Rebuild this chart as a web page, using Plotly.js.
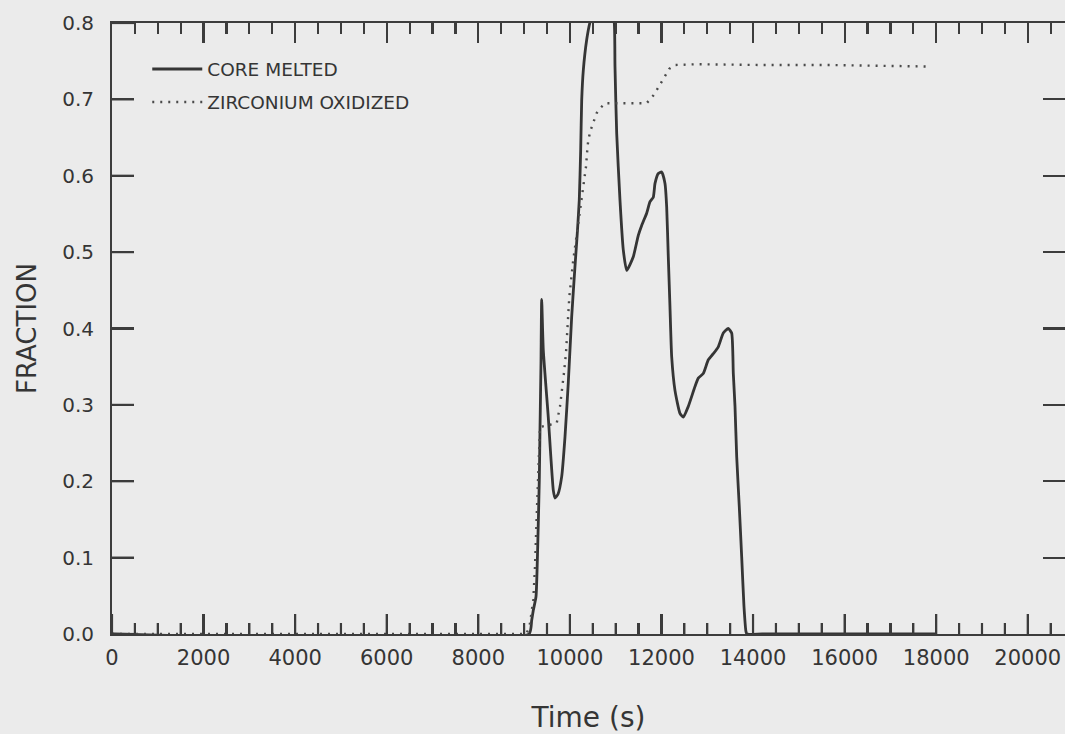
<!DOCTYPE html>
<html>
<head>
<meta charset="utf-8">
<script src="https://cdn.plot.ly/plotly-3.0.1.min.js"></script>
<style>
  html, body { margin: 0; padding: 0; background: #ebebeb; }
  #chart { width: 1065px; height: 734px; }
</style>
</head>
<body>
<div id="chart"></div>
<script>
// Fraction of the core melted over time (s)
const coreTime = [0, 9107, 9166, 9201, 9260, 9297, 9332, 9347, 9369, 9384,
  9419, 9528, 9638, 9675, 9740, 9821, 9893, 9965, 10039, 10111, 10162, 10205,
  10236, 10258, 10293, 10367, 10439, 10600, 10850, 10970, 10985, 11022, 11094,
  11166, 11241, 11385, 11494, 11568, 11677, 11750, 11822, 11859, 11931, 12005,
  12077, 12114, 12149, 12186, 12223, 12295, 12404, 12477, 12586, 12732, 12804,
  12913, 13023, 13132, 13241, 13350, 13459, 13533, 13569, 13606, 13643, 13700,
  13752, 13802, 13846, 13868, 14200, 18000];
const coreMelted = [0, 0, 0.018, 0.031, 0.049, 0.114, 0.202, 0.267, 0.355, 0.438,
  0.372, 0.284, 0.188, 0.178, 0.183, 0.206, 0.258, 0.329, 0.415, 0.481, 0.525, 0.568,
  0.634, 0.699, 0.738, 0.778, 0.801, 0.83, 0.84, 0.800, 0.743, 0.656, 0.568,
  0.503, 0.476, 0.494, 0.522, 0.535, 0.551, 0.566, 0.572, 0.590, 0.603, 0.605,
  0.590, 0.559, 0.494, 0.428, 0.363, 0.319, 0.289, 0.284, 0.298, 0.324, 0.335,
  0.341, 0.359, 0.367, 0.376, 0.394, 0.400, 0.394, 0.341, 0.298, 0.232, 0.166,
  0.101, 0.036, 0.003, 0, 0, 0];

// Fraction of the zirconium oxidized over time (s)
const zrTime = [0, 9041, 9085, 9129, 9201, 9238, 9275, 9310, 9347, 9565, 9712,
  9784, 9821, 9871, 9915, 9943, 9987, 10068, 10155, 10242, 10308, 10352, 10380,
  10402, 10455, 10511, 10585, 10657, 10767, 11677, 11822, 11895, 12005, 12077,
  12171, 12295, 12769, 14217, 15680, 17864];
const zrOxidized = [0, 0, 0.005, 0.014, 0.045, 0.088, 0.154, 0.219, 0.271, 0.274, 0.276,
  0.298, 0.315, 0.342, 0.368, 0.398, 0.441, 0.487, 0.526, 0.562, 0.588, 0.612, 0.634,
  0.647, 0.660, 0.669, 0.682, 0.688, 0.695, 0.695, 0.705, 0.712, 0.723, 0.732,
  0.740, 0.745, 0.746, 0.745, 0.745, 0.743];

const seriesNames = ['CORE MELTED', 'ZIRCONIUM OXIDIZED'];
const xLabel = 'Time (s)';
const yLabel = 'FRACTION';

// tick positions along the frame
const yTickVals = [0, 0.1, 0.2, 0.3, 0.4, 0.5, 0.6, 0.7, 0.8];
const xMajorTicks = [0, 2000, 4000, 6000, 8000, 10000, 12000, 14000, 16000, 18000, 20000];
const xMinorStep = 500;

const ink = '#353535';
const axisInk = '#3c3c3c';
const paper = '#ebebeb';
const font = 'DejaVu Sans, sans-serif';

const xRange = [0, 20813];
const yRange = [0, 0.8];

const traces = [
  {
    x: coreTime, y: coreMelted, name: seriesNames[0],
    type: 'scatter', mode: 'lines', legendgroup: 'a',
    line: { color: ink, width: 2.8, shape: 'spline', smoothing: 0.5 }
  },
  {
    x: zrTime, y: zrOxidized, name: seriesNames[1],
    type: 'scatter', mode: 'lines', legendgroup: 'b',
    line: { color: '#4a4a4a', width: 2.4, dash: '2px,6px' }
  }
];

// inward tick marks along the left and bottom edges of the frame
const tickShapes = [];
yTickVals.forEach(v => tickShapes.push({
  type: 'line', layer: 'above',
  xref: 'paper', xsizemode: 'pixel', xanchor: 0, x0: 0, x1: 22,
  yref: 'y', y0: v, y1: v,
  line: { color: axisInk, width: 2.2 }
}));
for (let t = 0; t <= xRange[1]; t += xMinorStep) {
  const major = xMajorTicks.includes(t);
  tickShapes.push({
    type: 'line', layer: 'above',
    xref: 'x', x0: t, x1: t,
    yref: 'paper', ysizemode: 'pixel', yanchor: 0, y0: 0, y1: major ? 20 : 11,
    line: { color: axisInk, width: 2.2 }
  });
}

const layout = {
  width: 1065, height: 734,
  margin: { l: 112, r: 0, t: 23, b: 100 },
  paper_bgcolor: paper, plot_bgcolor: paper,
  font: { family: font, color: ink },
  showlegend: true,
  legend: {
    x: 0.037, y: 0.955, xanchor: 'left', yanchor: 'top',
    bgcolor: 'rgba(0,0,0,0)', borderwidth: 0,
    font: { family: font, size: 18.5, color: ink },
    itemwidth: 50, traceorder: 'grouped', tracegroupgap: 6
  },
  xaxis: {
    range: xRange, tickmode: 'array', tickvals: xMajorTicks, tickformat: 'd',
    ticks: 'inside', ticklen: 20, tickwidth: 2.2, tickcolor: axisInk,
    minor: { dtick: xMinorStep, ticks: 'inside', ticklen: 11, tickwidth: 2.2, tickcolor: axisInk },
    showline: true, linecolor: axisInk, linewidth: 2, mirror: 'allticks',
    showgrid: false, zeroline: false,
    tickfont: { family: font, size: 21, color: ink },
    ticklabelstandoff: 4,
    automargin: false,
    title: { text: xLabel, font: { family: font, size: 28, color: ink }, standoff: 38 }
  },
  yaxis: {
    range: yRange, tickmode: 'array', tickvals: yTickVals, tickformat: '.1f',
    ticks: 'inside', ticklen: 22, tickwidth: 2.2, tickcolor: axisInk,
    showline: true, linecolor: axisInk, linewidth: 2, mirror: 'ticks',
    showgrid: false, zeroline: false,
    tickfont: { family: font, size: 20, color: ink },
    ticklabelstandoff: 12,
    automargin: false,
    title: { text: yLabel, font: { family: font, size: 26, color: ink }, standoff: 18 }
  },
  shapes: tickShapes
};

Plotly.newPlot('chart', traces, layout, { displayModeBar: false, staticPlot: true });
</script>
</body>
</html>
